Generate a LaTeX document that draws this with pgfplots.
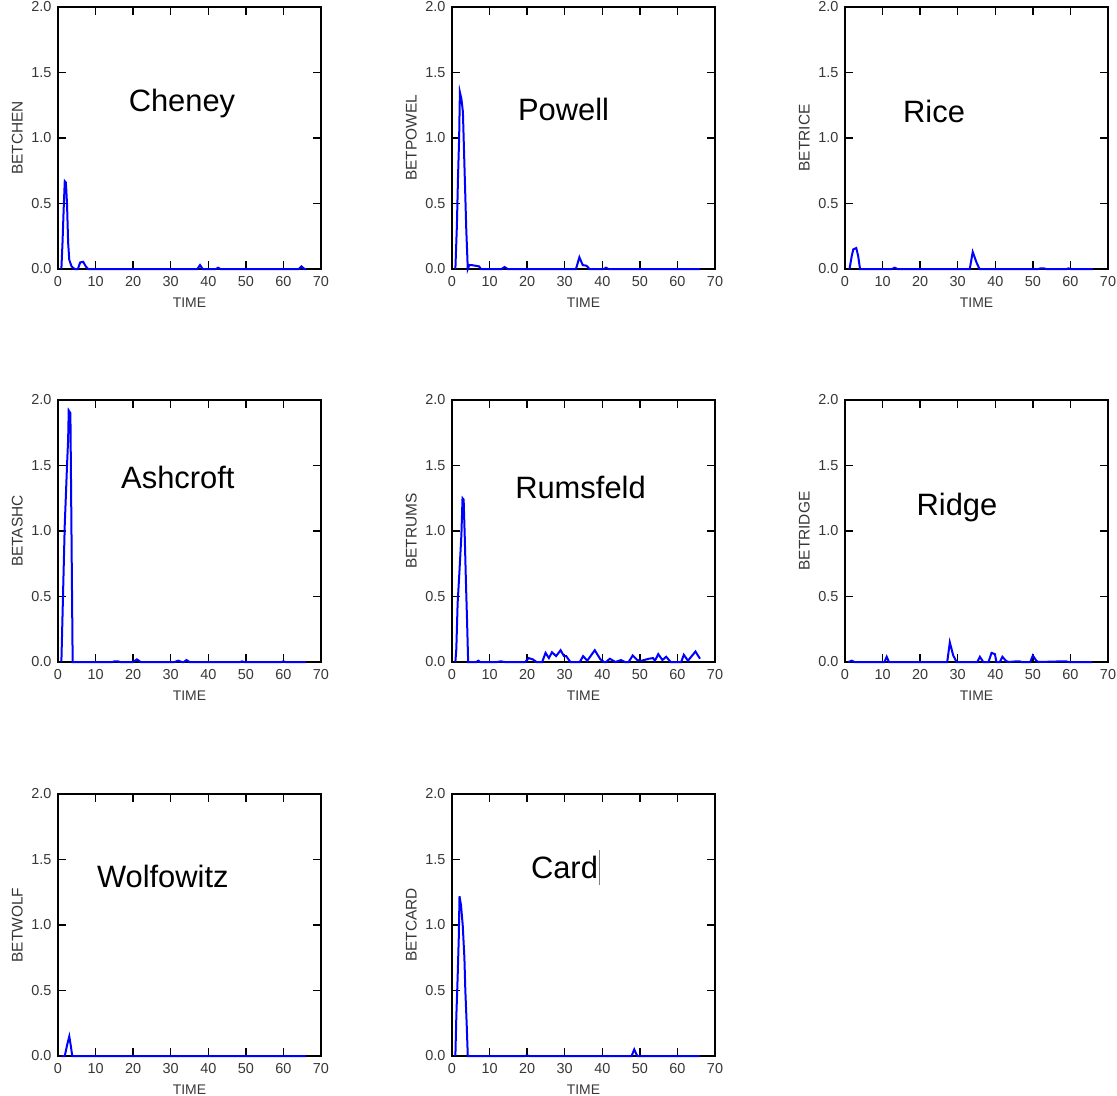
\documentclass[border=0pt]{standalone}
\usepackage{pgfplots}
\pgfplotsset{compat=1.18}
\usepackage{fontspec}
\setmainfont{Liberation Sans}
\definecolor{ticklab}{RGB}{55,55,55}
\pgfplotsset{
  panel/.style={
    scale only axis, width=263bp, height=262bp, anchor=south west,
    xmin=0, xmax=70, ymin=0, ymax=2,
    xtick={0,10,...,70}, ytick={0,0.5,...,2},
    yticklabel style={xshift=-3bp, /pgf/number format/.cd, fixed, fixed zerofill, precision=1},
    /pgf/number format/assume math mode=true,
    tick align=inside, major tick length=8bp,
    tick style={black, line width=1.4bp},
    axis line style={line width=1.5bp},
    clip=false,
    tick label style={font=\fontsize{14.5}{15}\selectfont, text=ticklab},
    xticklabel style={yshift=-4bp},
    xlabel=TIME,
    x label style={font=\fontsize{14}{15}\selectfont, text=ticklab, at={(axis description cs:0.5,-0.127)}, anchor=center},
    y label style={font=\fontsize{15.5}{16}\selectfont, text=ticklab, at={(axis description cs:-0.155,0.5)}, anchor=center},
    every axis plot/.append style={blue, line width=2bp, no marks},
  }
}
\tikzset{ttl/.style={font=\fontsize{31}{32}\selectfont, text=black, anchor=center}}
\begin{document}
\begin{tikzpicture}
\useasboundingbox (0,0) rectangle (1117bp,-1096bp);
% Row 1
\begin{axis}[panel, at={(58bp,-269bp)}, ylabel=BETCHEN]
\addplot coordinates {(0.9,0)(1.2,0.2)(1.5,0.45)(1.8,0.67)(2.1,0.66)(2.4,0.5)(2.7,0.2)(3,0.07)(3.6,0.02)(4.4,0)(5.3,0)(5.9,0.05)(6.7,0.055)(7.4,0.02)(8,0)(37.1,0)(37.8,0.03)(38.5,0)(42.1,0)(42.6,0.01)(43.2,0)(64.1,0)(64.8,0.02)(65.6,0)(66,0)};
\node[ttl] at (axis cs:33,1.26) {Cheney};
\end{axis}
\begin{axis}[panel, at={(452bp,-269bp)}, ylabel=BETPOWEL]
\addplot coordinates {(0.9,0)(1.3,0.33)(1.6,0.7)(1.9,1.0)(2.1,1.35)(2.5,1.3)(2.9,1.2)(3.2,0.9)(3.5,0.6)(3.8,0.3)(4.2,0)(4.6,0.03)(5.2,0.03)(6.2,0.025)(7.2,0.02)(7.7,0)(13.2,0)(14,0.015)(14.8,0)(33,0)(33.9,0.09)(34.8,0.03)(35.8,0.025)(36.6,0)(40.4,0)(41,0.01)(41.6,0)(66,0)};
\node[ttl] at (axis cs:29.7,1.22) {Powell};
\end{axis}
\begin{axis}[panel, at={(845bp,-269bp)}, ylabel=BETRICE]
\addplot coordinates {(1.2,0)(1.8,0.1)(2.2,0.15)(3,0.16)(3.5,0.1)(4,0)(12.5,0)(13.2,0.01)(14,0)(33.2,0)(34,0.13)(35,0.05)(35.8,0)(51.5,0)(52,0.005)(53,0.005)(53.5,0)(59,0)(59.5,0.005)(60,0)(66,0)};
\node[ttl] at (axis cs:23.7,1.2) {Rice};
\end{axis}
% Row 2
\begin{axis}[panel, at={(58bp,-662bp)}, ylabel=BETASHC]
\addplot coordinates {(0.9,0)(1.2,0.35)(1.5,0.7)(1.8,1.05)(2.1,1.27)(2.4,1.5)(2.7,1.7)(2.85,1.92)(3.3,1.9)(3.5,1.27)(3.7,0.63)(3.9,0)(14.5,0)(15,0.005)(16,0.005)(16.5,0)(20,0)(21,0.02)(22,0)(31,0)(32,0.01)(33,0)(33.5,0)(34.2,0.015)(35,0)(48.5,0)(49,0.005)(49.5,0)(59.5,0)(60,0.005)(60.5,0)(66,0)};
\node[ttl] at (axis cs:31.9,1.41) {Ashcroft};
\end{axis}
\begin{axis}[panel, at={(452bp,-662bp)}, ylabel=BETRUMS]
\addplot coordinates {(0.9,0)(1.15,0.1)(1.5,0.45)(2,0.7)(2.5,0.97)(2.8,1.25)(3.1,1.24)(3.4,0.95)(3.7,0.62)(4,0.32)(4.3,0)(6.5,0)(7,0.01)(7.5,0)(12,0)(13,0.005)(14,0)(19.5,0)(20.4,0.03)(21.5,0.02)(22.5,0)(24,0)(24.9,0.07)(25.8,0.03)(26.6,0.075)(27.7,0.045)(28.9,0.09)(29.8,0.045)(30.4,0.045)(31.5,0)(34,0)(34.9,0.045)(36,0.01)(38,0.09)(39.5,0.02)(40.5,0)(41,0)(42,0.025)(43.5,0)(45,0.015)(46,0)(47,0)(48.1,0.05)(49.3,0.015)(50.5,0.01)(52.4,0.025)(53.5,0.03)(54,0.01)(54.9,0.06)(56,0.015)(57,0.04)(58.2,0)(61,0)(61.7,0.055)(62.8,0.01)(64.8,0.08)(65.9,0.03)(66,0.025)};
\node[ttl] at (axis cs:34.2,1.33) {Rumsfeld};
\end{axis}
\begin{axis}[panel, at={(845bp,-662bp)}, ylabel=BETRIDGE]
\addplot coordinates {(0.9,0)(1.8,0.01)(2.5,0)(10.5,0)(11.1,0.04)(11.7,0)(27.2,0)(27.9,0.15)(28.8,0.05)(29.7,0)(35.2,0)(35.9,0.04)(36.8,0)(38.2,0)(39,0.07)(39.9,0.06)(40.3,0)(41.2,0)(41.9,0.04)(42.8,0.01)(43.5,0)(45.6,0.005)(46.5,0.005)(47,0)(49.3,0)(50,0.05)(50.9,0.01)(51.5,0)(57.6,0.005)(58.9,0.005)(59.5,0)(65.8,0)};
\node[ttl] at (axis cs:29.8,1.18) {Ridge};
\end{axis}
% Row 3
\begin{axis}[panel, at={(58bp,-1056bp)}, ylabel=BETWOLF]
\addplot coordinates {(0.9,0)(1.8,0)(2.4,0.08)(3,0.15)(3.4,0.08)(3.8,0)(66,0)};
\node[ttl] at (axis cs:27.9,1.37) {Wolfowitz};
\end{axis}
\begin{axis}[panel, at={(452bp,-1056bp)}, ylabel=BETCARD]
\addplot coordinates {(0.9,0)(1.15,0.3)(1.5,0.6)(1.8,0.9)(2.0,1.22)(2.4,1.15)(2.85,1.0)(3.3,0.75)(3.55,0.5)(3.9,0.25)(4.2,0)(19.5,0)(20,0.005)(20.5,0)(47.8,0)(48.5,0.05)(49.3,0)(66,0)};
\node[ttl] at (axis cs:30.2,1.44) {Card\hspace{1bp}\textcolor{gray}{\rule[-6bp]{1bp}{35bp}}};
\end{axis}
\end{tikzpicture}
\end{document}
